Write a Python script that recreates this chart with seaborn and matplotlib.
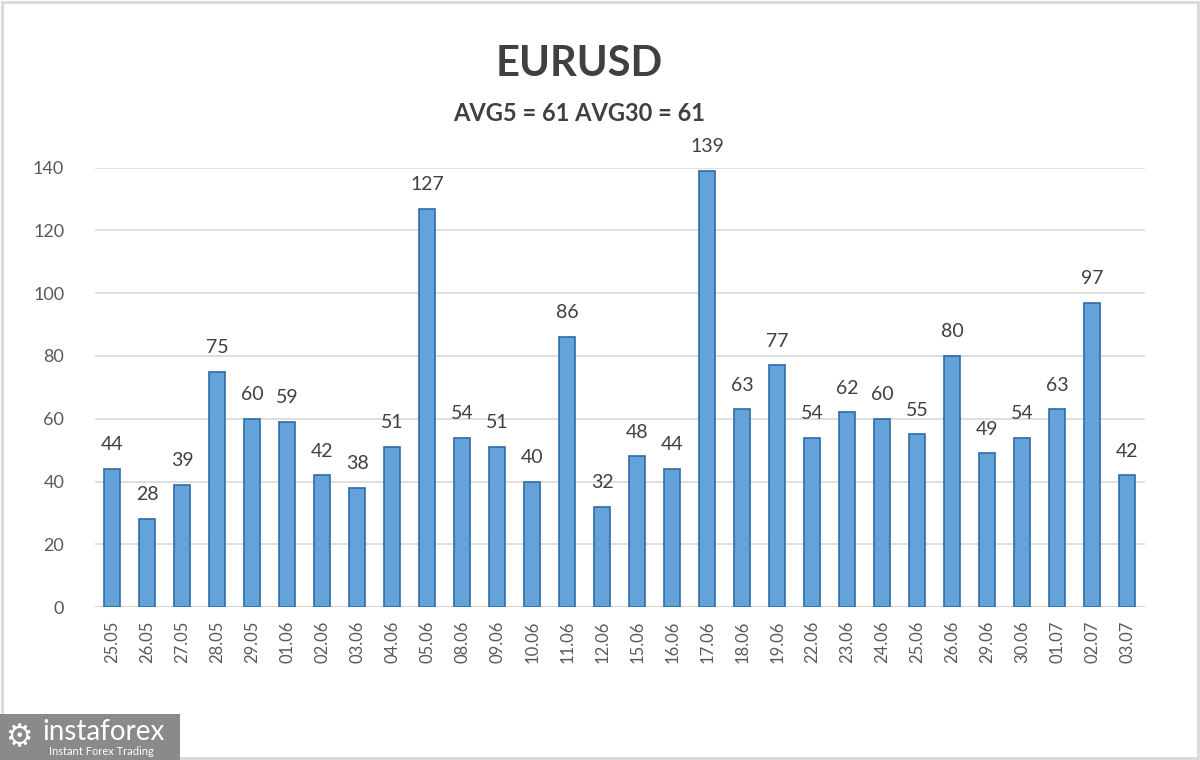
import matplotlib
matplotlib.use("Agg")
import matplotlib.pyplot as plt
import seaborn as sns
import pandas as pd
from matplotlib.patches import Rectangle

# daily range values
dates = ["25.05", "26.05", "27.05", "28.05", "29.05", "01.06", "02.06", "03.06",
         "04.06", "05.06", "08.06", "09.06", "10.06", "11.06", "12.06", "15.06",
         "16.06", "17.06", "18.06", "19.06", "22.06", "23.06", "24.06", "25.06",
         "26.06", "29.06", "30.06", "01.07", "02.07", "03.07"]
values = [44, 28, 39, 75, 60, 59, 42, 38, 51, 127, 54, 51, 40, 86, 32, 48,
          44, 139, 63, 77, 54, 62, 60, 55, 80, 49, 54, 63, 97, 42]
yticks = [0, 20, 40, 60, 80, 100, 120, 140]

title = "EURUSD"
subtitle = "AVG5 = 61 AVG30 = 61"

sns.set_style("white")
plt.rcParams["font.family"] = ["Lato", "DejaVu Sans"]

df = pd.DataFrame({"date": dates, "value": values})

fig = plt.figure(figsize=(12, 7.6), dpi=100)
ax = fig.add_axes([0.079, 0.2013, 0.875, 0.578])

sns.barplot(data=df, x="date", y="value", color="#64a3da", width=0.46,
            edgecolor="#2f6ca6", linewidth=1.2, saturation=1, ax=ax)

for i, v in enumerate(values):
    ax.text(i, v + 5, str(v), ha="center", va="bottom", fontsize=14,
            color="#404040", clip_on=False)

ax.set_ylim(0, 140)
ax.set_xlim(-0.5, len(dates) - 0.5)
ax.set_yticks(yticks)
ax.yaxis.grid(True, color="#d9d9d9", linewidth=1.2)
ax.set_axisbelow(True)
for s in ax.spines.values():
    s.set_visible(False)
ax.axhline(0, color="#d0d0d0", linewidth=1.5, zorder=0)
ax.tick_params(axis="y", length=0, pad=22, labelsize=13, labelcolor="#595959")
ax.tick_params(axis="x", length=0, pad=10, labelsize=12, labelcolor="#595959",
               rotation=90)
ax.set_xlabel("")
ax.set_ylabel("")

fig.text(0.483, 0.916, title, ha="center", va="center", fontsize=30,
         fontweight="bold", color="#404040")
fig.text(0.483, 0.851, subtitle, ha="center", va="center", fontsize=17,
         fontweight="bold", color="#404040")

# light frame around the image
fig.patches.append(Rectangle((0.002, 0.003), 0.996, 0.994, transform=fig.transFigure,
                             fill=False, edgecolor="#d8d8d8", linewidth=2))

# watermark logo box
fig.patches.append(Rectangle((0, 0), 0.15, 0.06, transform=fig.transFigure,
                             facecolor="#8a8a8a", edgecolor="none"))
fig.text(0.035, 0.037, "instaforex", fontsize=20, color="white", va="center",
         ha="left")
fig.text(0.041, 0.011, "Instant Forex Trading", fontsize=8, color="white",
         va="center", ha="left")
fig.text(0.016, 0.03, "\u2699", fontsize=22, color="white", va="center",
         ha="center", family=["DejaVu Sans"])

fig.savefig("out.png", dpi=100)
